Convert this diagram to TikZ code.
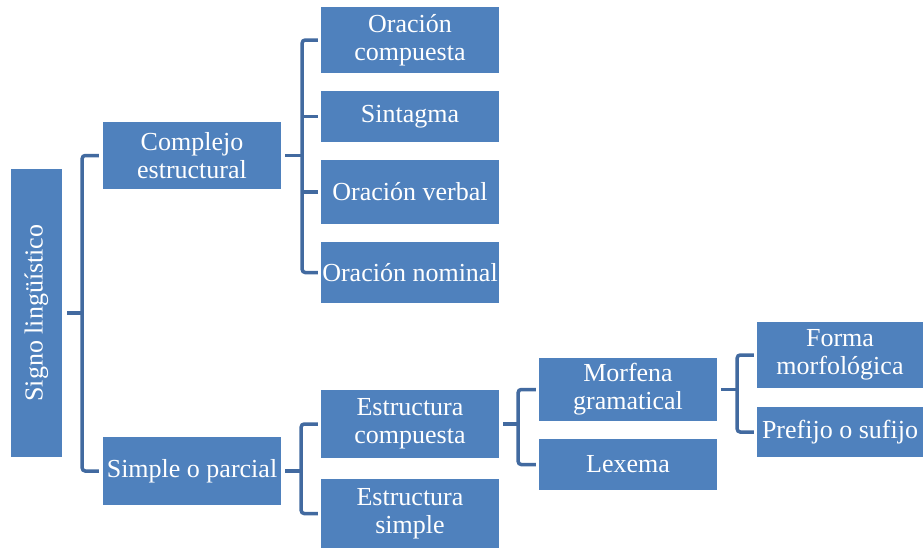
\documentclass[tikz,border=0pt]{standalone}
\usepackage{fontspec}
\setmainfont{Liberation Serif}
\usetikzlibrary{calc}
\definecolor{boxblue}{RGB}{79,129,189}
\definecolor{connblue}{RGB}{66,106,160}
\begin{document}
\begin{tikzpicture}[x=1pt,y=-1pt,
  box/.style={fill=boxblue, text=white, inner sep=0pt, align=center,
    font=\fontsize{26}{28}\selectfont},
  conn/.style={draw=connblue, line width=3.5pt, rounded corners=3pt}]
\useasboundingbox (0,0) rectangle (923,550);
% boxes
\node[box, minimum width=51pt, minimum height=288pt] (sig) at (36.5,313) {};
\node[rotate=90, text=white, font=\fontsize{26}{28}\selectfont] (sigt) at (sig.center) {Signo lingüístico};
\node[box, minimum width=178pt, minimum height=67pt] (comp) at (192,155.5) {Complejo\\estructural};
\node[box, minimum width=178pt, minimum height=68pt] (simp) at (192,471) {Simple o parcial};
\node[box, minimum width=178pt, minimum height=66pt] (oc) at (410,40) {Oración\\compuesta};
\node[box, minimum width=178pt, minimum height=51pt] (sin) at (410,116.5) {Sintagma};
\node[box, minimum width=178pt, minimum height=64pt] (ov) at (410,192) {Oración verbal};
\node[box, minimum width=178pt, minimum height=61pt] (on) at (410,272.5) {Oración nominal};
\node[box, minimum width=178pt, minimum height=68pt] (ec) at (410,424) {Estructura\\compuesta};
\node[box, minimum width=178pt, minimum height=69pt] (es) at (410,513.5) {Estructura\\simple};
\node[box, minimum width=178pt, minimum height=63pt] (mg) at (628,389.5) {Morfena\\gramatical};
\node[box, minimum width=178pt, minimum height=51pt] (lx) at (628,464.5) {Lexema};
\node[box, minimum width=166pt, minimum height=66pt] (fm) at (840,355) {Forma\\morfológica};
\node[box, minimum width=166pt, minimum height=50pt] (pf) at (840,432) {Prefijo o sufijo};
% buses
\coordinate (b0) at ([xshift=20pt]sig.east);
\coordinate (b1) at ([xshift=21pt]comp.east);
\coordinate (b2) at ([xshift=20pt]simp.east);
\coordinate (b3) at ([xshift=19pt]ec.east);
\coordinate (b4) at ([xshift=20pt]mg.east);
% level 1
\draw[conn] ([xshift=5pt]sig.east) -- (b0);
\draw[conn] ([xshift=-4pt]comp.west) -| (b0) |- ([xshift=-4pt]simp.west);
% complejo
\draw[conn] ([xshift=4pt]comp.east) -- (b1);
\draw[conn] ([xshift=-3pt]oc.west) -| (b1) |- ([xshift=-3pt]on.west);
\draw[conn] (b1 |- sin.west) -- ([xshift=-3pt]sin.west);
\draw[conn] (b1 |- ov.west) -- ([xshift=-3pt]ov.west);
% simple
\draw[conn] ([xshift=4pt]simp.east) -- (b2);
\draw[conn] ([xshift=-3pt]ec.west) -| (b2) |- ([xshift=-3pt]es.west);
% estructura compuesta
\draw[conn] ([xshift=4pt]ec.east) -- (b3);
\draw[conn] ([xshift=-3pt]mg.west) -| (b3) |- ([xshift=-3pt]lx.west);
% morfena
\draw[conn] ([xshift=4pt]mg.east) -- (b4);
\draw[conn] ([xshift=-3pt]fm.west) -| (b4) |- ([xshift=-3pt]pf.west);
\end{tikzpicture}
\end{document}
